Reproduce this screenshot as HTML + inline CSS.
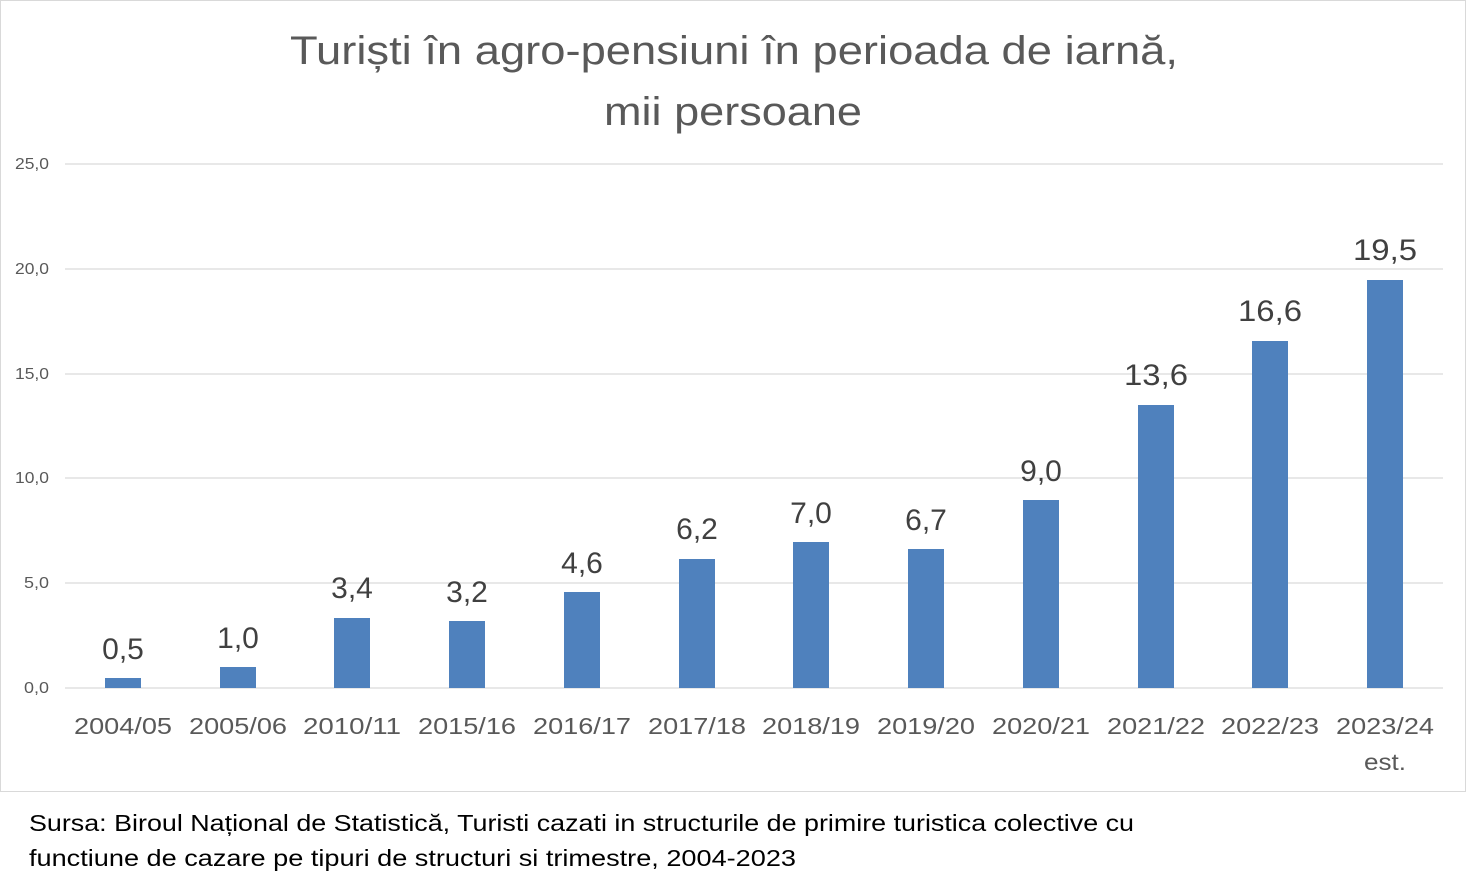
<!DOCTYPE html>
<html><head><meta charset="utf-8"><style>
html,body{margin:0;padding:0;background:#fff;}
svg{display:block;font-family:"Liberation Sans",sans-serif;}
</style></head><body>
<svg width="1466" height="884" viewBox="0 0 1466 884">
<rect x="0.5" y="0.5" width="1465" height="791" fill="#fff" stroke="#d9d9d9"/>
<text x="290" y="64" font-size="40" fill="#595959" textLength="888" lengthAdjust="spacingAndGlyphs">Turiști în agro-pensiuni în perioada de iarnă,</text>
<text x="604" y="125" font-size="40" fill="#595959" textLength="258" lengthAdjust="spacingAndGlyphs">mii persoane</text>
<g stroke="#d9d9d9" stroke-width="1.3">
<line x1="65" x2="1443" y1="164" y2="164"/>
<line x1="65" x2="1443" y1="269" y2="269"/>
<line x1="65" x2="1443" y1="374" y2="374"/>
<line x1="65" x2="1443" y1="478" y2="478"/>
<line x1="65" x2="1443" y1="583" y2="583"/>
<line x1="65" x2="1443" y1="688" y2="688"/>
</g>
<g font-size="16" fill="#595959" text-anchor="end">
<text x="49" y="169" textLength="34" lengthAdjust="spacingAndGlyphs">25,0</text>
<text x="49" y="274" textLength="34" lengthAdjust="spacingAndGlyphs">20,0</text>
<text x="49" y="379" textLength="34" lengthAdjust="spacingAndGlyphs">15,0</text>
<text x="49" y="483" textLength="34" lengthAdjust="spacingAndGlyphs">10,0</text>
<text x="49" y="588" textLength="25" lengthAdjust="spacingAndGlyphs">5,0</text>
<text x="49" y="693" textLength="25" lengthAdjust="spacingAndGlyphs">0,0</text>
</g>
<g fill="#4f81bd">
<rect x="105" y="678" width="36" height="10"/>
<rect x="220" y="667" width="36" height="21"/>
<rect x="334" y="618" width="36" height="70"/>
<rect x="449" y="621" width="36" height="67"/>
<rect x="564" y="592" width="36" height="96"/>
<rect x="679" y="559" width="36" height="129"/>
<rect x="793" y="542" width="36" height="146"/>
<rect x="908" y="549" width="36" height="139"/>
<rect x="1023" y="500" width="36" height="188"/>
<rect x="1138" y="405" width="36" height="283"/>
<rect x="1252" y="341" width="36" height="347"/>
<rect x="1367" y="280" width="36" height="408"/>
</g>
<g font-size="30" fill="#404040" text-anchor="middle">
<text x="123" y="659">0,5</text>
<text x="238" y="648">1,0</text>
<text x="352" y="598">3,4</text>
<text x="467" y="602">3,2</text>
<text x="582" y="573">4,6</text>
<text x="697" y="539">6,2</text>
<text x="811" y="523">7,0</text>
<text x="926" y="530">6,7</text>
<text x="1041" y="481">9,0</text>
<text x="1156" y="385" textLength="64" lengthAdjust="spacingAndGlyphs">13,6</text>
<text x="1270" y="321" textLength="64" lengthAdjust="spacingAndGlyphs">16,6</text>
<text x="1385" y="260" textLength="64" lengthAdjust="spacingAndGlyphs">19,5</text>
</g>
<g font-size="23" fill="#595959" text-anchor="middle">
<text x="123" y="734" textLength="98" lengthAdjust="spacingAndGlyphs">2004/05</text>
<text x="238" y="734" textLength="98" lengthAdjust="spacingAndGlyphs">2005/06</text>
<text x="352" y="734" textLength="98" lengthAdjust="spacingAndGlyphs">2010/11</text>
<text x="467" y="734" textLength="98" lengthAdjust="spacingAndGlyphs">2015/16</text>
<text x="582" y="734" textLength="98" lengthAdjust="spacingAndGlyphs">2016/17</text>
<text x="697" y="734" textLength="98" lengthAdjust="spacingAndGlyphs">2017/18</text>
<text x="811" y="734" textLength="98" lengthAdjust="spacingAndGlyphs">2018/19</text>
<text x="926" y="734" textLength="98" lengthAdjust="spacingAndGlyphs">2019/20</text>
<text x="1041" y="734" textLength="98" lengthAdjust="spacingAndGlyphs">2020/21</text>
<text x="1156" y="734" textLength="98" lengthAdjust="spacingAndGlyphs">2021/22</text>
<text x="1270" y="734" textLength="98" lengthAdjust="spacingAndGlyphs">2022/23</text>
<text x="1385" y="734" textLength="98" lengthAdjust="spacingAndGlyphs">2023/24</text>
<text x="1385" y="770" textLength="42" lengthAdjust="spacingAndGlyphs">est.</text>
</g>
<g font-size="23" fill="#000">
<text x="29" y="831" textLength="1105" lengthAdjust="spacingAndGlyphs">Sursa: Biroul Național de Statistică, Turisti cazati in structurile de primire turistica colective cu</text>
<text x="29" y="866" textLength="767" lengthAdjust="spacingAndGlyphs">functiune de cazare pe tipuri de structuri si trimestre, 2004-2023</text>
</g>
</svg>
</body></html>
